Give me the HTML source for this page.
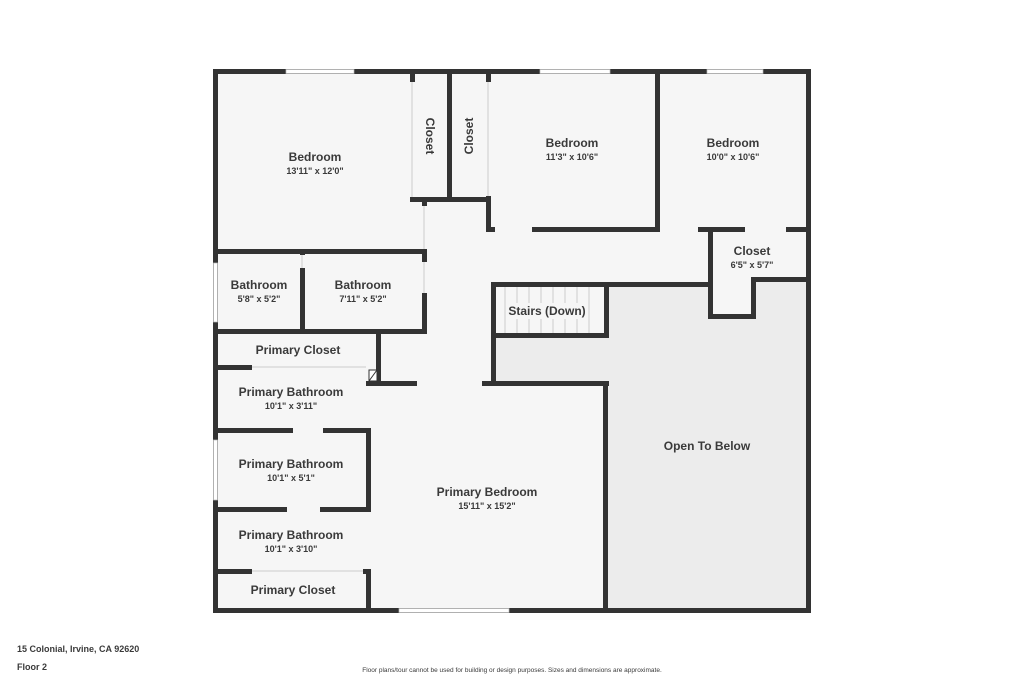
<!DOCTYPE html>
<html><head><meta charset="utf-8"><style>
html,body{margin:0;padding:0;background:#fff;}
svg{display:block}
text{font-family:"Liberation Sans",sans-serif;fill:#3a3a3a;}
.l{font-size:12px;font-weight:bold;}
.d{font-size:9px;font-weight:bold;}
</style></head><body>
<svg width="1024" height="683" viewBox="0 0 1024 683" xmlns="http://www.w3.org/2000/svg">
<rect x="0" y="0" width="1024" height="683" fill="#fff"/>
<!-- floor -->
<rect x="213" y="69" width="598" height="544" fill="#f6f6f6"/>
<!-- open to below -->
<polygon points="609,287 712,287 712,318 755,318 755,281 806,281 806,608 608,608 608,386 496,386 496,337 609,337" fill="#ececec"/>
<g fill="#333">
<!-- outer -->
<rect x="213" y="69" width="598" height="5"/>
<rect x="213" y="69" width="5" height="544"/>
<rect x="806" y="69" width="5" height="544"/>
<rect x="213" y="608" width="598" height="5"/>
<!-- closets top -->
<rect x="410" y="69" width="5" height="13"/>
<rect x="447" y="69" width="5" height="132"/>
<rect x="410" y="197" width="81" height="5"/>
<rect x="486" y="69" width="5" height="13"/>
<rect x="486" y="196" width="5" height="36"/>
<rect x="486" y="227" width="9" height="5"/>
<rect x="532" y="227" width="128" height="5"/>
<rect x="655" y="69" width="5" height="163"/>
<rect x="698" y="227" width="47" height="5"/>
<rect x="786" y="227" width="25" height="5"/>
<!-- closet 6'5 -->
<rect x="708" y="227" width="5" height="91"/>
<rect x="708" y="314" width="47" height="5"/>
<rect x="751" y="277" width="5" height="42"/>
<rect x="751" y="277" width="58" height="5"/>
<!-- stairs -->
<rect x="491" y="282" width="221" height="5"/>
<rect x="604" y="282" width="5" height="55"/>
<rect x="491" y="333" width="118" height="5"/>
<rect x="491" y="282" width="5" height="104"/>
<rect x="482" y="381" width="127" height="5"/>
<rect x="603" y="381" width="5" height="232"/>
<!-- left block -->
<rect x="422" y="200" width="5" height="6"/>
<rect x="213" y="249" width="214" height="5"/>
<rect x="422" y="249" width="5" height="13"/>
<rect x="422" y="293" width="5" height="41"/>
<rect x="300" y="249" width="5" height="6"/>
<rect x="300" y="268" width="5" height="65"/>
<rect x="213" y="329" width="214" height="5"/>
<rect x="376" y="329" width="5" height="57"/>
<rect x="213" y="365" width="39" height="5"/>
<rect x="366" y="381" width="51" height="5"/>
<rect x="213" y="428" width="80" height="5"/>
<rect x="323" y="428" width="48" height="5"/>
<rect x="366" y="428" width="5" height="84"/>
<rect x="213" y="507" width="74" height="5"/>
<rect x="320" y="507" width="51" height="5"/>
<rect x="213" y="569" width="39" height="5"/>
<rect x="363" y="569" width="8" height="5"/>
<rect x="366" y="569" width="5" height="44"/>
</g>
<!-- hatched -->
<rect x="369" y="370" width="8" height="11" fill="#fff" stroke="#333" stroke-width="1"/>
<line x1="369" y1="381" x2="377" y2="370" stroke="#333" stroke-width="1"/>
<!-- windows -->
<g fill="#fff" stroke="#bbb" stroke-width="0.7">
<rect x="286" y="69.5" width="68" height="4"/>
<rect x="540" y="69.5" width="70" height="4"/>
<rect x="707" y="69.5" width="56" height="4"/>
<rect x="399" y="608.5" width="110" height="4"/>
<rect x="213.5" y="263" width="4" height="59"/>
<rect x="213.5" y="440" width="4" height="60"/>
</g>
<g stroke="#ccc" stroke-width="1">
<line x1="412" y1="82" x2="412" y2="197"/>
<line x1="488" y1="82" x2="488" y2="196"/>
<line x1="424" y1="206" x2="424" y2="249"/>
<line x1="424" y1="262" x2="424" y2="293"/>
<line x1="302" y1="255" x2="302" y2="268"/>
<line x1="252" y1="367" x2="366" y2="367"/>
<line x1="252" y1="571" x2="363" y2="571"/>
</g>
<!-- stair lines -->
<g stroke="#ccc" stroke-width="1">
<line x1="505" y1="287" x2="505" y2="333"/><line x1="517" y1="287" x2="517" y2="333"/>
<line x1="529" y1="287" x2="529" y2="333"/><line x1="541" y1="287" x2="541" y2="333"/>
<line x1="553" y1="287" x2="553" y2="333"/><line x1="565" y1="287" x2="565" y2="333"/>
<line x1="577" y1="287" x2="577" y2="333"/><line x1="589" y1="287" x2="589" y2="333"/>
</g>
<rect x="506" y="303" width="82" height="16" fill="#f6f6f6"/>
<!-- labels -->
<g text-anchor="middle">
<text class="l" x="315" y="161">Bedroom</text><text class="d" x="315" y="174">13'11" x 12'0"</text>
<text class="l" x="572" y="147">Bedroom</text><text class="d" x="572" y="160">11'3" x 10'6"</text>
<text class="l" x="733" y="147">Bedroom</text><text class="d" x="733" y="160">10'0" x 10'6"</text>
<text class="l" x="752" y="255">Closet</text><text class="d" x="752" y="268">6'5" x 5'7"</text>
<text class="l" x="259" y="289">Bathroom</text><text class="d" x="259" y="302">5'8" x 5'2"</text>
<text class="l" x="363" y="289">Bathroom</text><text class="d" x="363" y="302">7'11" x 5'2"</text>
<text class="l" x="547" y="315">Stairs (Down)</text>
<text class="l" x="298" y="354">Primary Closet</text>
<text class="l" x="291" y="396">Primary Bathroom</text><text class="d" x="291" y="409">10'1" x 3'11"</text>
<text class="l" x="291" y="468">Primary Bathroom</text><text class="d" x="291" y="481">10'1" x 5'1"</text>
<text class="l" x="291" y="539">Primary Bathroom</text><text class="d" x="291" y="552">10'1" x 3'10"</text>
<text class="l" x="293" y="594">Primary Closet</text>
<text class="l" x="487" y="496">Primary Bedroom</text><text class="d" x="487" y="509">15'11" x 15'2"</text>
<text class="l" x="707" y="450">Open To Below</text>
<text class="l" transform="translate(426,136) rotate(90)">Closet</text>
<text class="l" transform="translate(473,136) rotate(-90)">Closet</text>
</g>
<text x="17" y="652" style="font-size:9px;font-weight:bold">15 Colonial, Irvine, CA 92620</text>
<text x="17" y="670" style="font-size:9px;font-weight:bold">Floor 2</text>
<text x="512" y="672" text-anchor="middle" style="font-size:6.5px">Floor plans/tour cannot be used for building or design purposes. Sizes and dimensions are approximate.</text>
</svg>
</body></html>
